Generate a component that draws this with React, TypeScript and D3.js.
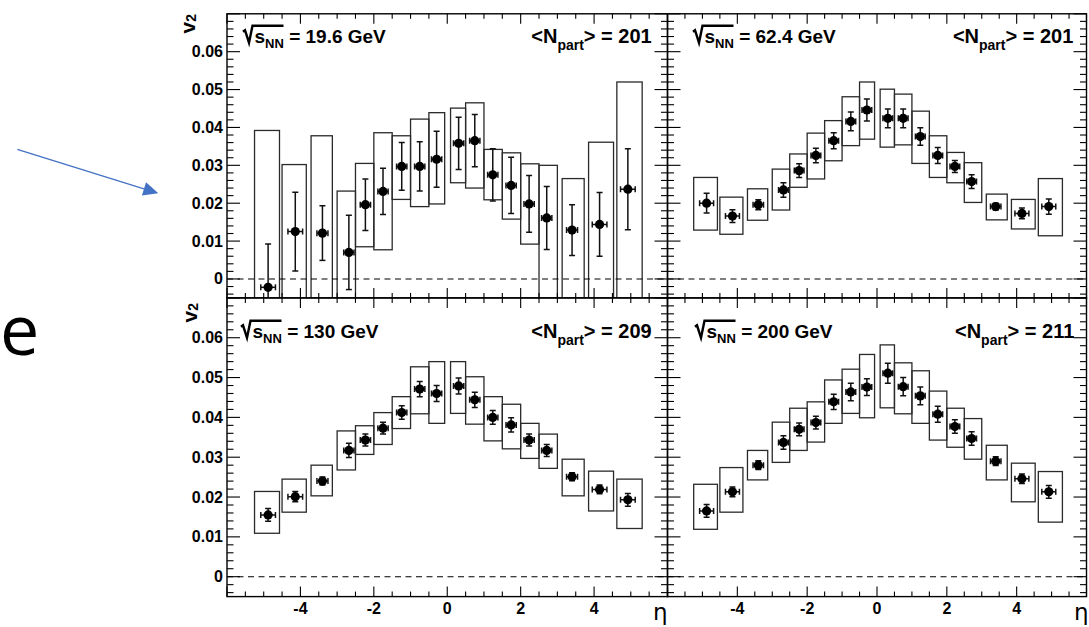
import React from "react";
import * as d3 from "d3";

// pseudorapidity bins (mean eta, horizontal error, systematic box edges)
const etaCenter = [-4.88, -4.14, -3.40, -2.68, -2.23, -1.75, -1.24, -0.75, -0.29, 0.31, 0.75, 1.24, 1.74, 2.23, 2.71, 3.40, 4.15, 4.92];
const etaErr = [0.2, 0.2, 0.15, 0.14, 0.14, 0.14, 0.14, 0.14, 0.14, 0.14, 0.14, 0.14, 0.14, 0.14, 0.14, 0.15, 0.2, 0.2];
const binLo = [-5.25, -4.5, -3.71, -3.0, -2.5, -2.0, -1.5, -1.0, -0.5, 0.09, 0.5, 1.0, 1.5, 2.0, 2.5, 3.13, 3.85, 4.62];
const binHi = [-4.57, -3.84, -3.13, -2.5, -2.0, -1.5, -1.0, -0.5, -0.07, 0.5, 1.0, 1.5, 2.0, 2.5, 3.0, 3.73, 4.53, 5.31];

// 19.6 GeV
const v2_19 = [-0.0022, 0.0125, 0.0121, 0.007, 0.0196, 0.0231, 0.0297, 0.0297, 0.0316, 0.0358, 0.0365, 0.0275, 0.0247, 0.0198, 0.0161, 0.0129, 0.0144, 0.0237];
const stat_19 = [0.0114, 0.0104, 0.0072, 0.0098, 0.0068, 0.0061, 0.0063, 0.0065, 0.0074, 0.0069, 0.0069, 0.0069, 0.0074, 0.0075, 0.0083, 0.0067, 0.0084, 0.0107];
const sysHi_19 = [0.0392, 0.0302, 0.0378, 0.0232, 0.0305, 0.0386, 0.0378, 0.0422, 0.0439, 0.0451, 0.0465, 0.0342, 0.0333, 0.0304, 0.03, 0.0265, 0.0361, 0.052];
const sysLo_19 = [-0.01, -0.01, -0.01, -0.01, 0.0085, 0.0077, 0.021, 0.0191, 0.0198, 0.0254, 0.024, 0.0209, 0.0158, 0.0092, -0.01, -0.01, -0.01, -0.01];

// 62.4 GeV
const v2_62 = [0.02, 0.0166, 0.0196, 0.0235, 0.0286, 0.0326, 0.0365, 0.0416, 0.0446, 0.0424, 0.0424, 0.0376, 0.0326, 0.0297, 0.0257, 0.0191, 0.0173, 0.0191];
const stat_62 = [0.0026, 0.0017, 0.0013, 0.0019, 0.0018, 0.0019, 0.0021, 0.0025, 0.0029, 0.0025, 0.0025, 0.0023, 0.0021, 0.0016, 0.0018, 0.0009, 0.0014, 0.002];
const sysHi_62 = [0.0268, 0.0216, 0.0238, 0.029, 0.033, 0.0385, 0.0418, 0.0481, 0.052, 0.0501, 0.0488, 0.0443, 0.0378, 0.0334, 0.0307, 0.0224, 0.021, 0.0265];
const sysLo_62 = [0.0129, 0.0118, 0.0155, 0.0182, 0.0242, 0.0264, 0.0312, 0.0352, 0.0369, 0.0348, 0.0354, 0.0305, 0.0268, 0.0254, 0.0202, 0.0156, 0.0132, 0.0114];

// 130 GeV
const v2_130 = [0.0155, 0.0201, 0.024, 0.0317, 0.0343, 0.0373, 0.0412, 0.0471, 0.046, 0.0479, 0.0444, 0.04, 0.0381, 0.0343, 0.0317, 0.0251, 0.0219, 0.0193];
const stat_130 = [0.0016, 0.0013, 0.001, 0.0018, 0.0015, 0.0015, 0.0017, 0.0019, 0.002, 0.002, 0.0019, 0.0017, 0.0018, 0.0015, 0.0015, 0.001, 0.0011, 0.0016];
const sysHi_130 = [0.0214, 0.0245, 0.028, 0.0366, 0.0379, 0.0412, 0.0452, 0.0527, 0.054, 0.054, 0.0502, 0.0452, 0.0433, 0.0385, 0.0358, 0.0295, 0.0265, 0.0245];
const sysLo_130 = [0.0109, 0.0162, 0.0203, 0.0268, 0.0307, 0.0332, 0.0372, 0.0409, 0.0385, 0.041, 0.0383, 0.0341, 0.0321, 0.0297, 0.0272, 0.0203, 0.0165, 0.0121];

// 200 GeV
const v2_200 = [0.0165, 0.0213, 0.028, 0.0337, 0.037, 0.0387, 0.0439, 0.0464, 0.0476, 0.0511, 0.0477, 0.0454, 0.0408, 0.0377, 0.0347, 0.029, 0.0246, 0.0213];
const stat_200 = [0.0016, 0.0012, 0.0011, 0.0017, 0.0016, 0.0016, 0.0019, 0.0022, 0.0021, 0.0025, 0.0023, 0.0022, 0.002, 0.0017, 0.0017, 0.0011, 0.0012, 0.0016];
const sysHi_200 = [0.0232, 0.0274, 0.0317, 0.0388, 0.0423, 0.0439, 0.0494, 0.0521, 0.0558, 0.0582, 0.0537, 0.0517, 0.0466, 0.0423, 0.0397, 0.033, 0.0285, 0.0264];
const sysLo_200 = [0.0119, 0.0162, 0.0243, 0.0287, 0.0317, 0.0338, 0.0385, 0.041, 0.0399, 0.0424, 0.0409, 0.0385, 0.0343, 0.0325, 0.0295, 0.0243, 0.0188, 0.0137];

const energyLabels = ["19.6", "62.4", "130", "200"];
const npartLabels = ["201", "201", "209", "211"];
const yTickValues = [0, 0.01, 0.02, 0.03, 0.04, 0.05, 0.06];
const yTickLabels = ["0", "0.01", "0.02", "0.03", "0.04", "0.05", "0.06"];
const xTickValues = [-4, -2, 0, 2, 4];
const xTickLabels = ["-4", "-2", "0", "2", "4"];

const FONT = "'Liberation Sans', Arial, Helvetica, sans-serif";

const panels = [
  { v: v2_19, stat: stat_19, hi: sysHi_19, lo: sysLo_19, col: 0, row: 0, sqrtX: 243, npEnd: 651.7, baseY: 42.7 },
  { v: v2_62, stat: stat_62, hi: sysHi_62, lo: sysLo_62, col: 1, row: 0, sqrtX: 693, npEnd: 1073.3, baseY: 42.7 },
  { v: v2_130, stat: stat_130, hi: sysHi_130, lo: sysLo_130, col: 0, row: 1, sqrtX: 241, npEnd: 651.7, baseY: 337.8 },
  { v: v2_200, stat: stat_200, hi: sysHi_200, lo: sysLo_200, col: 1, row: 1, sqrtX: 695, npEnd: 1074.3, baseY: 337.8 },
];

const colX = [[227, 667.5], [667.5, 1086.5]];
const rowY = [[13.8, 297.9], [297.9, 596.6]];

function isMultiple(t: number, step: number) {
  return Math.abs(t / step - Math.round(t / step)) < 1e-6;
}

function Panel({ p, idx }: { p: any; idx: number }) {
  const [x0, x1] = colX[p.col];
  const [y0, y1] = rowY[p.row];
  const xs = d3.scaleLinear().domain([-6, 6]).range([x0, x1]);
  const ys = d3.scaleLinear().domain([-0.005, 0.07]).range([y1, y0]);
  const clipId = `clip-${idx}`;
  const yMajor = d3.range(0, 0.0701, 0.01);
  const yMinor = d3.range(-0.004, 0.0701, 0.002).filter((t) => !isMultiple(t, 0.01));
  const xMajor = d3.range(-6, 6.01, 2);
  const xMinor = d3.range(-5.5, 6, 0.5).filter((t) => !isMultiple(t, 2));
  const yTL = 13, yTm = 6.5, xTL = 10, xTm = 5;
  const cap = 3;
  const ink = "#111";

  return (
    <g>
      <defs>
        <clipPath id={clipId}>
          <rect x={x0} y={y0} width={x1 - x0} height={y1 - y0} />
        </clipPath>
      </defs>
      <g clipPath={`url(#${clipId})`}>
        {p.v.map((_: number, i: number) => (
          <rect
            key={"b" + i}
            x={xs(binLo[i])}
            y={ys(p.hi[i])}
            width={xs(binHi[i]) - xs(binLo[i])}
            height={ys(p.lo[i]) - ys(p.hi[i])}
            fill="none"
            stroke="#2a2a2a"
            strokeWidth={1.3}
          />
        ))}
        <line x1={x0} x2={x1} y1={ys(0)} y2={ys(0)} stroke="#000" strokeWidth={1.1} strokeDasharray="6,4.5" />
        {p.v.map((val: number, i: number) => {
          const cx = xs(etaCenter[i]);
          const cy = ys(val);
          const yt = ys(val + p.stat[i]);
          const yb = ys(val - p.stat[i]);
          const xl = xs(etaCenter[i] - etaErr[i]);
          const xr = xs(etaCenter[i] + etaErr[i]);
          return (
            <g key={"e" + i} stroke={ink} strokeWidth={1.5}>
              <line x1={cx} x2={cx} y1={yt} y2={yb} />
              <line x1={cx - cap} x2={cx + cap} y1={yt} y2={yt} />
              <line x1={cx - cap} x2={cx + cap} y1={yb} y2={yb} />
              <line x1={xl} x2={xr} y1={cy} y2={cy} />
              <line x1={xl} x2={xl} y1={cy - cap} y2={cy + cap} />
              <line x1={xr} x2={xr} y1={cy - cap} y2={cy + cap} />
              <circle cx={cx} cy={cy} r={4.6} fill="#000" stroke="none" />
            </g>
          );
        })}
      </g>
      {/* frame */}
      <rect x={x0} y={y0} width={x1 - x0} height={y1 - y0} fill="none" stroke="#000" strokeWidth={1.4} />
      {/* ticks */}
      <g stroke="#000" strokeWidth={1.1}>
        {yMajor.map((t) => (
          <g key={"ym" + t}>
            <line x1={x0} x2={x0 + yTL} y1={ys(t)} y2={ys(t)} />
            <line x1={x1} x2={x1 - yTL} y1={ys(t)} y2={ys(t)} />
          </g>
        ))}
        {yMinor.map((t) => (
          <g key={"yn" + t}>
            <line x1={x0} x2={x0 + yTm} y1={ys(t)} y2={ys(t)} />
            <line x1={x1} x2={x1 - yTm} y1={ys(t)} y2={ys(t)} />
          </g>
        ))}
        {xMajor.map((t) => (
          <g key={"xm" + t}>
            <line x1={xs(t)} x2={xs(t)} y1={y1} y2={y1 - xTL} />
            <line x1={xs(t)} x2={xs(t)} y1={y0} y2={y0 + xTL} />
          </g>
        ))}
        {xMinor.map((t) => (
          <g key={"xn" + t}>
            <line x1={xs(t)} x2={xs(t)} y1={y1} y2={y1 - xTm} />
            <line x1={xs(t)} x2={xs(t)} y1={y0} y2={y0 + xTm} />
          </g>
        ))}
      </g>
      {p.col === 0 &&
        yTickValues.map((t, i) => (
          <text key={"yl" + i} x={x0 - 4} y={ys(t) + 5.5} textAnchor="end" fontFamily={FONT} fontWeight="bold" fontSize={16} fill="#000">
            {yTickLabels[i]}
          </text>
        ))}
      {p.col === 0 && (
        <text transform={`translate(${p.row === 0 ? 195 : 196.5},${p.row === 0 ? 14 : 303}) rotate(-90)`} textAnchor="end" fontFamily={FONT} fontWeight="bold" fontSize={21} fill="#000">
          v<tspan fontSize={14} dy={1}>2</tspan>
        </text>
      )}
      {p.row === 1 &&
        xTickValues.map((t, i) => (
          <text key={"xl" + i} x={xs(t)} y={613.5} textAnchor="middle" fontFamily={FONT} fontWeight="bold" fontSize={16} fill="#000">
            {xTickLabels[i]}
          </text>
        ))}
      {p.row === 1 && (
        <text x={p.col === 0 ? x1 : 1088.5} y={619.5} textAnchor="end" fontFamily="'DejaVu Sans', sans-serif" fontSize={23} fill="#000">
          η
        </text>
      )}
      {/* sqrt(s_NN) label */}
      <path
        d={`M${p.sqrtX},${p.baseY - 11} L${p.sqrtX + 2},${p.baseY - 12.5} L${p.sqrtX + 6},${p.baseY} L${p.sqrtX + 9.5},${p.baseY - 17} L${p.sqrtX + 40.5},${p.baseY - 17}`}
        fill="none"
        stroke="#000"
        strokeWidth={2.4}
        strokeLinejoin="miter"
      />
      <text x={p.sqrtX + 11.5} y={p.baseY} fontFamily={FONT} fontWeight="bold" fontSize={19} fill="#000">
        s<tspan fontSize={13} dy={5.5}>NN</tspan>
        <tspan dy={-5.5}> = {energyLabels[idx]} GeV</tspan>
      </text>
      <text x={p.npEnd} y={p.baseY} textAnchor="end" fontFamily={FONT} fontWeight="bold" fontSize={20} fill="#000">
        {"<N"}
        <tspan fontSize={14} dy={7.5}>part</tspan>
        <tspan dy={-7.5}>{"> = " + npartLabels[idx]}</tspan>
      </text>
    </g>
  );
}

export default function App() {
  const ax0 = 17.3, ay0 = 149.3, ax1 = 158.3, ay1 = 193.3;
  const len = Math.hypot(ax1 - ax0, ay1 - ay0);
  const ux = (ax1 - ax0) / len, uy = (ay1 - ay0) / len;
  const hl = 15, hw = 7;
  const bx = ax1 - ux * hl, by = ay1 - uy * hl;
  const head = `M${ax1},${ay1} L${bx - uy * hw},${by + ux * hw} L${bx + uy * hw},${by - ux * hw} Z`;
  return (
    <svg width={1089} height={627} style={{ position: "absolute", left: 0, top: 0, background: "#fff" }}>
      <rect x={0} y={0} width={1089} height={627} fill="#fff" />
      <line x1={ax0} y1={ay0} x2={bx} y2={by} stroke="#4472C4" strokeWidth={1.3} />
      <path d={head} fill="#4472C4" />
      <text x={0} y={355} fontFamily="'Open Sans', 'Noto Sans', sans-serif" fontSize={70} fill="#000">
        e
      </text>
      {panels.map((p, i) => (
        <Panel key={i} p={p} idx={i} />
      ))}
    </svg>
  );
}
